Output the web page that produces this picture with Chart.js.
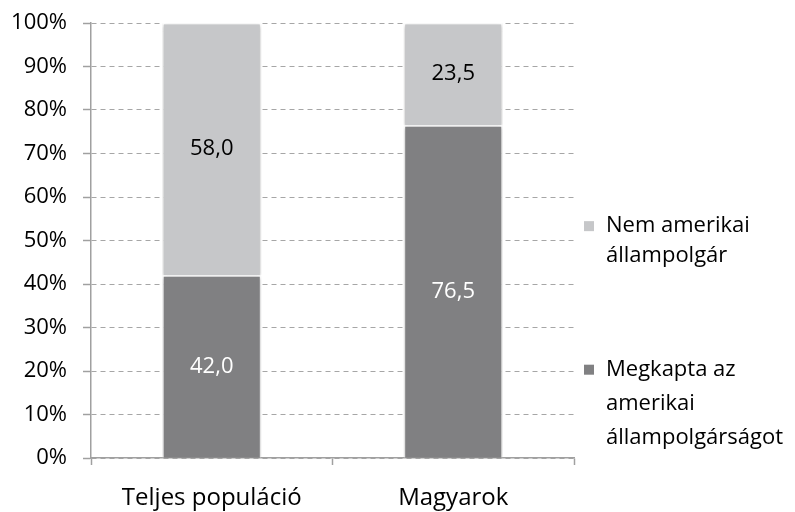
<!DOCTYPE html>
<html>
<head>
<meta charset="utf-8">
<script src="https://cdn.jsdelivr.net/npm/chart.js@4.4.1/dist/chart.umd.min.js"></script>
<style>
  html, body { margin: 0; padding: 0; background: #fff; }
  #wrap { width: 795px; height: 512px; position: relative; }
</style>
</head>
<body>
<div id="wrap"><canvas id="chart"></canvas></div>
<script>
const categories = ['Teljes populáció', 'Magyarok'];
const citizens = [42.0, 76.5];      // Megkapta az amerikai állampolgárságot
const nonCitizens = [58.0, 23.5];   // Nem amerikai állampolgár
const yTicks = [0, 10, 20, 30, 40, 50, 60, 70, 80, 90, 100];

const FONT = 'Open Sans';
const FONT_SIZE = 22;
const darkGray = '#808082';
const lightGray = '#C6C7C9';

const legendLines = [
    { color: lightGray, lines: ['Nem amerikai', 'állampolgár'] },
    { color: darkGray, lines: ['Megkapta az', 'amerikai', 'állampolgárságot'] }
];

const barShadow = {
    id: 'barShadow',
    beforeDatasetsDraw(chart) {
        const ctx = chart.ctx;
        ctx.save();
        ctx.shadowColor = 'rgba(0,0,0,0.28)';
        ctx.shadowBlur = 4;
        ctx.shadowOffsetX = 0;
        ctx.shadowOffsetY = 1;
    },
    afterDatasetsDraw(chart) {
        chart.ctx.restore();
    }
};

const valueLabels = {
    id: 'valueLabels',
    afterDatasetsDraw(chart) {
        const ctx = chart.ctx;
        ctx.save();
        ctx.font = FONT_SIZE + 'px "' + FONT + '"';
        ctx.textAlign = 'center';
        ctx.textBaseline = 'middle';
        chart.data.datasets.forEach((ds, i) => {
            chart.getDatasetMeta(i).data.forEach((bar, j) => {
                const p = bar.getProps(['x', 'y', 'base'], true);
                ctx.fillStyle = ds.labelColor;
                ctx.fillText(ds.data[j].toFixed(1).replace('.', ','), p.x, (p.y + p.base) / 2);
            });
        });
        ctx.restore();
    }
};

const sideLegend = {
    id: 'sideLegend',
    afterDraw(chart) {
        const ctx = chart.ctx;
        const x = chart.chartArea.right + 10;
        const starts = [chart.scales.y.getPixelForValue(53.3), chart.scales.y.getPixelForValue(20.3)];
        const spacing = [30, 34];
        ctx.save();
        ctx.font = FONT_SIZE + 'px "' + FONT + '"';
        ctx.textBaseline = 'middle';
        legendLines.forEach((item, i) => {
            let y = starts[i];
            ctx.fillStyle = item.color;
            ctx.fillRect(x, y - 5, 10, 10);
            ctx.fillStyle = '#000';
            item.lines.forEach(line => {
                ctx.fillText(line, x + 22, y);
                y += spacing[i];
            });
        });
        ctx.restore();
    }
};

new Chart(document.getElementById('chart'), {
    type: 'bar',
    data: {
        labels: categories,
        datasets: [
            {
                label: 'Megkapta az amerikai állampolgárságot',
                data: citizens,
                backgroundColor: darkGray,
                borderColor: '#ffffff',
                borderWidth: 1.5,
                labelColor: '#ffffff'
            },
            {
                label: 'Nem amerikai állampolgár',
                data: nonCitizens,
                backgroundColor: lightGray,
                borderColor: '#ffffff',
                borderWidth: 1.5,
                labelColor: '#000000'
            }
        ]
    },
    options: {
        responsive: true,
        maintainAspectRatio: false,
        animation: false,
        barPercentage: 0.41,
        categoryPercentage: 1,
        layout: { padding: { top: 23, right: 221, left: 0, bottom: 0 } },
        plugins: {
            legend: { display: false },
            tooltip: { enabled: false }
        },
        scales: {
            x: {
                stacked: true,
                afterFit(scale) {
                    scale.height = 54;
                    scale.paddingLeft = 0;
                    scale.paddingRight = 0;
                },
                border: { color: '#A0A0A0', width: 1.5 },
                grid: {
                    offset: true,
                    drawOnChartArea: false,
                    tickLength: 7,
                    tickColor: '#A0A0A0',
                    tickWidth: 1.5
                },
                ticks: {
                    color: '#000',
                    font: { family: FONT, size: 24 },
                    padding: 19
                }
            },
            y: {
                stacked: true,
                min: 0,
                max: 100,
                afterFit(scale) {
                    scale.width = 91;
                    scale.paddingTop = 0;
                    scale.paddingBottom = 0;
                },
                afterBuildTicks(scale) { scale.ticks = yTicks.map(v => ({ value: v })); },
                border: { color: '#A0A0A0', width: 1.5, dash: [5, 4] },
                grid: {
                    color: '#A6A6A6',
                    lineWidth: 1,
                    tickLength: 8,
                    tickColor: '#A0A0A0',
                    tickWidth: 1.5,
                    tickBorderDash: []
                },
                ticks: {
                    color: '#000',
                    font: { family: FONT, size: FONT_SIZE },
                    padding: 16,
                    callback: v => v + '%'
                }
            }
        }
    },
    plugins: [barShadow, valueLabels, sideLegend]
});
</script>
</body>
</html>
